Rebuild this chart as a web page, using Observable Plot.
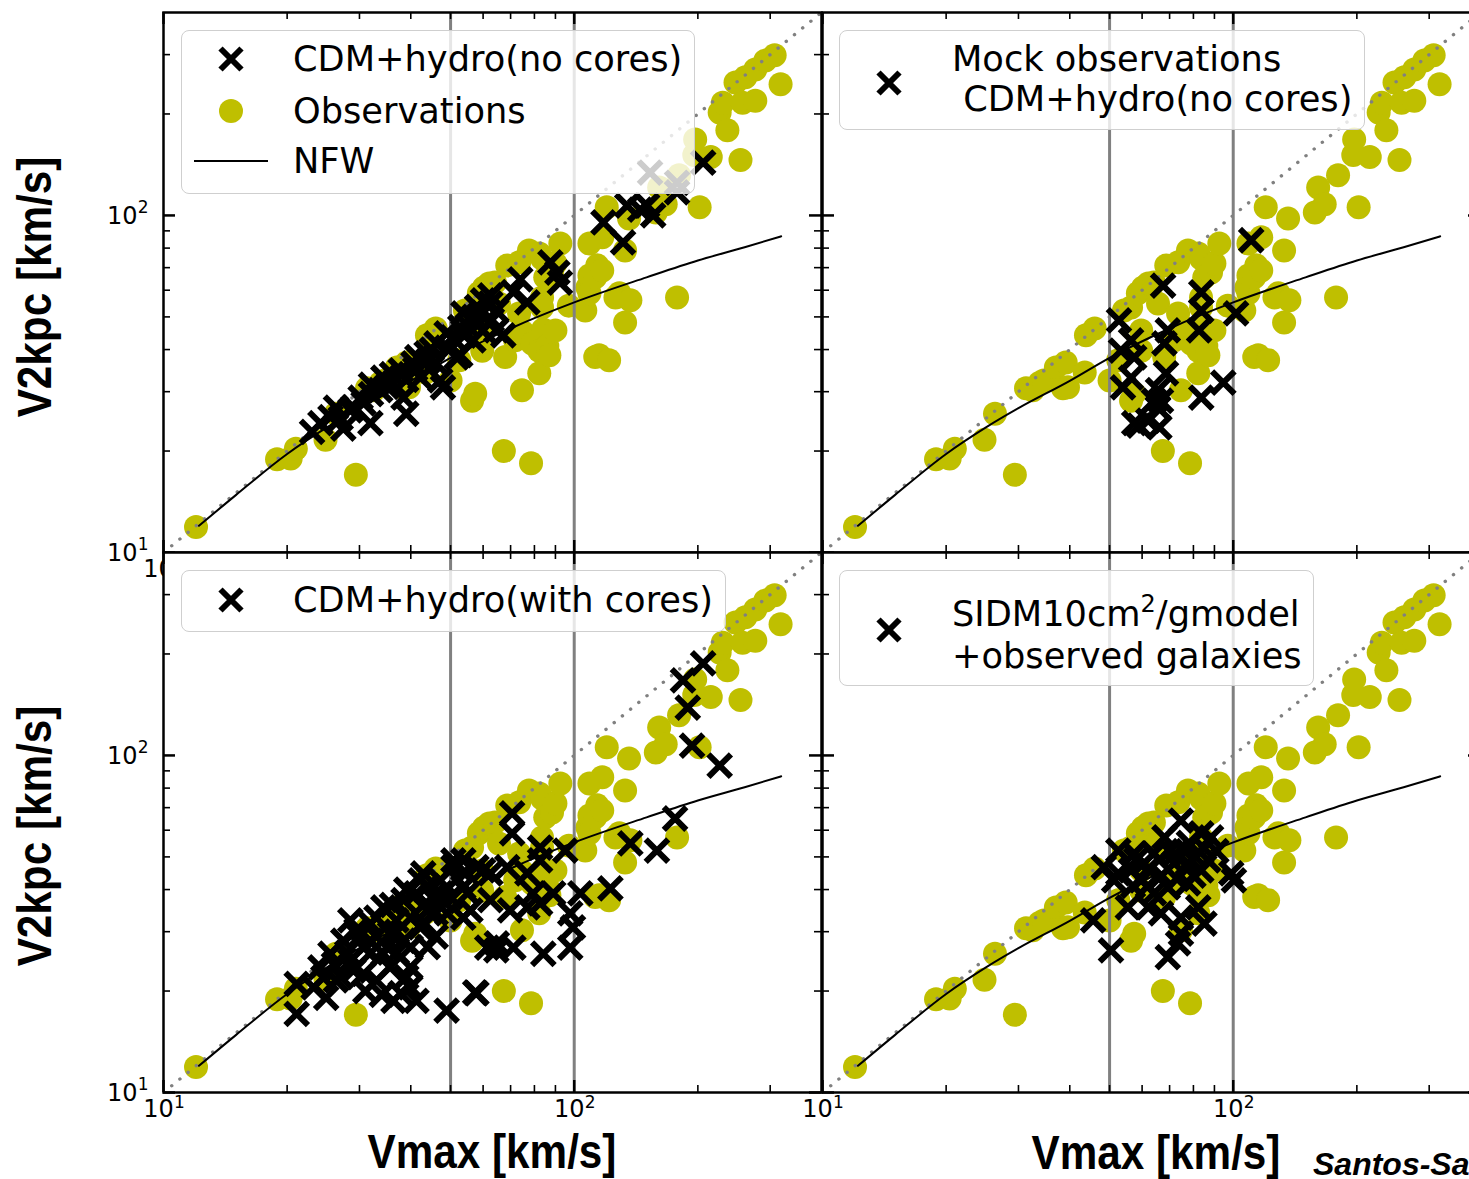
<!DOCTYPE html>
<html>
<head>
<meta charset="utf-8">
<script src="https://cdn.jsdelivr.net/npm/d3@7"></script>
<script src="https://cdn.jsdelivr.net/npm/@observablehq/plot@0.6"></script>
<style>
  html, body { margin: 0; padding: 0; background: #fff; overflow: hidden; }
  #fig { position: relative; width: 1469px; height: 1179px; overflow: hidden; background: #fff; }
  .legend { position: absolute; box-sizing: border-box; background: rgba(255,255,255,0.8);
            border: 1.5px solid #cfcfcf; border-radius: 8px; font-family: "DejaVu Sans", sans-serif;
            font-size: 35.2px; color: #000; }
  .legend .txt { position: absolute; white-space: pre; line-height: 40px; transform: translateY(-50%); }
  .legend svg { position: absolute; overflow: visible; }
  .title { position: absolute; font-family: "Liberation Sans", Arial, sans-serif;
           font-weight: bold; font-size: 48px; line-height: 40px; white-space: nowrap; color: #000; }
  .credit { position: absolute; font-family: "Liberation Sans", sans-serif; font-weight: bold; font-style: italic;
            font-size: 32px; line-height: 28px; white-space: nowrap; color: #000; }
</style>
</head>
<body>
<div id="fig"></div>
<script>
// ---------------- data ----------------
const observations = [
  [12,11.9],[18.9,18.9],[20.4,19.0],[21.0,20.3],[24.8,21.6],[26.3,25.8],[29.4,17.0],[31.3,30.7],
  [32.5,30.3],[33.8,31.9],[34.6,32.4],[37.0,35.4],[38.5,30.7],[39.1,36.6],[39.6,30.9],[43.5,34.2],
  [43.8,44.1],[46.0,46.2],[50.0,32.4],[52.5,37.2],[54.2,52.2],[56.4,53.3],[56.4,28.2],[57.4,29.6],
  [58.6,58.8],[59.7,39.7],[59.7,45.6],[60.3,61.1],[62.1,62.8],[64.1,63.2],[65.6,54.8],[67.4,20.0],
  [67.9,38.0],[68.7,71.0],[71.8,42.6],[73.4,51.2],[73.5,72.6],[75.0,45.0],[74.6,30.3],[77.6,78.7],
  [78.5,18.4],[79.0,41.7],[82.2,77.1],[82.2,39.7],[82.2,34.0],[83.5,74.5],[83.5,57.1],[83.5,53.3],
  [84.0,45.9],[85.0,65.5],[86.0,41.0],[87.0,38.5],[88.3,67.7],[90.0,72.0],[90.0,45.6],[92.5,82.6],
  [97.0,54.0],[106.4,52.2],[107.7,61.1],[108.9,66.4],[108.9,82.6],[108.9,58.8],[112.5,65.5],
  [112.5,38.0],[113.8,71.1],[115,38.5],[117,86.1],[117,68.7],[120,105.7],[121.6,37.2],[126,57.1],
  [128.8,58.8],[133,78.7],[133,48.1],[136,98],[137,56.0],[158,102],[161,121],[167,108],[178,57.1],
  [180,131.5],[196,151],[197,168],[202,105.7],[215,149],[226,202],[230,216],[236,179],[247,248],
  [254,146],[257,216],[261,257],[276,271],[276,219],[292,288],[307.6,298.6],[318,245]
];

const crossesNoCores = [
  [24.1,24.2],[25.5,25.2],[27.4,23.3],[26.3,26.9],[28.5,26.4],[30.2,28.8],[31.9,24.2],[30.7,27.7],
  [34.3,33.0],[33.7,30.3],[36.3,31.7],[38.4,28.8],[39.0,25.8],[37.8,34.7],[40.6,36.4],[42.2,33.0],
  [43.7,39.0],[46.2,41.7],[47.2,32.4],[47.9,30.9],[48.9,44.7],[51.7,37.9],[52.8,46.6],[53.7,51.2],
  [56.8,42.6],[60.0,45.6],[62.5,54.8],[60.0,56.0],[64.6,52.2],[64.6,45.6],[52.8,38.5],[58.1,47.2],
  [62.5,57.9],[60.0,51.5],[67.2,44.1],[71.1,59.2],[76.9,55.2],[73.9,64.6],[87.5,72.6],[91.0,67.7],
  [92.3,63.2],[117.8,95.3],[131.5,83.2],[134.6,107],[144.8,104],[155.7,100],[150.5,107],[178,117],
  [206,143.5],[153,134],[178,125],
  [23.0,22.8],[27.0,25.0],[29.0,27.0],[32.0,29.5],[35.0,31.0],[36.0,33.8],[39.0,32.5],[41.0,35.0],
  [44.0,37.0],[45.0,40.0],[49.0,40.5],[50.5,43.5],[55.0,47.0],[57.0,50.0],[58.0,53.5],[63.0,49.0],
  [32.0,31.5],[41.5,38.0],[46.0,36.5],[54.0,44.0]
];

const crossesMock = [
  [52.7,48.8],[67.5,61.9],[83.6,59.1],[83.6,52.2],[82.6,45.6],[101.6,51.2],[69.3,45.6],[68.0,41.7],
  [56.4,42.6],[53.3,39.7],[57.4,37.9],[56.4,33.0],[53.9,30.9],[68.6,34.0],[65.6,30.3],[66.7,28.2],
  [64.1,28.2],[65.6,26.9],[83.6,28.8],[94.6,31.9],[59.0,23.8],[66.1,23.5],[62.1,24.6],[57.4,24.2],
  [110.6,84.4]
];

const crossesCores = [
  [206,187.5],[184,167],[189,138.6],[193.6,107],[226,93.3],[176,65.0],[159,52.2],[137,54.8],
  [122.5,40.3],[95.1,52.2],[82.6,53.3],[70.6,67.3],[70.6,58.7],[103.5,39.0],[97.8,34.0],[99.3,30.9],
  [97.8,26.9],[84.1,25.8],[71.1,26.9],[61.4,26.9],[64.8,27.7],[57.4,19.8],[62.5,37.2],[69.8,34.7],
  [76.9,35.4],[82.6,36.4],[79.4,39.0],[76.9,44.7],[82.6,48.8],[88.9,39.0],[68.7,46.6],[60.0,45.6],
  [53.7,48.8],[50.8,46.6],[55.0,39.0],[55.9,34.7],[47.2,39.0],[42.2,42.6],[43.8,34.7],[49.1,34.0],
  [39.9,20.5],[21.1,17.1],[21.1,21.0],[24.9,19.1],[23.2,20.5],[24.1,23.5],[25.5,25.8],[27.4,28.2],
  [29.5,30.3],[31.9,31.7],[33.0,33.0],[28.5,24.6],[30.7,22.5],[33.0,21.5],[35.6,23.5],[36.3,18.7],
  [41.3,18.7],[37.8,19.7],[48.9,17.5],[57.8,19.7],[38.4,28.2],[36.9,32.4],[42.2,30.9],[44.7,35.4],
  [41.3,39.0],[38.4,37.2],[47.2,42.6],[50.8,48.8],[42.9,44.7],[34.3,35.4],[31.9,28.2],[26.3,21.5],
  [24.5,21.9],[28.5,32.4],[30.7,26.9],[34.3,25.8],[39.9,23.5],[35.6,29.6],[53.7,40.6],[57.8,46.6],
  [53.7,33.0],[62.5,44.7],[64.6,26.4],
  [26.0,24.0],[28.0,26.0],[29.0,23.0],[32.0,26.0],[33.0,29.0],[35.0,27.0],[37.0,26.0],[37.0,30.0],
  [40.0,27.0],[40.0,33.0],[43.0,32.0],[45.0,38.0],[46.0,34.0],[48.0,37.0],[36.0,36.0],[39.0,40.0],
  [44.0,41.0],[30.0,29.0],[27.0,22.0],[31.0,20.0],[34.0,19.5],[39.0,22.0],[44.0,27.0],[46.0,29.0],
  [50.0,38.0],[52.0,43.0]
];

const crossesSIDM = [
  [74.6,64.1],[52.5,52.2],[88.3,57.1],[83.6,58.7],[68.0,57.1],[64.1,51.2],[48.4,46.6],[51.3,42.6],
  [56.4,45.6],[55.4,35.4],[59.7,42.6],[71.8,47.9],[77.6,47.9],[77.6,41.7],[83.6,45.6],[86.9,48.8],
  [69.3,40.6],[64.1,39.0],[62.1,35.4],[66.7,34.0],[74.6,33.0],[82.2,35.4],[85.1,31.7],[74.6,29.6],
  [73.4,27.7],[69.3,25.2],[50.4,26.4],[45.6,32.4],[98.9,44.7],[100.4,42.6],[57.4,51.2],[60.7,47.9],
  [52.5,44.7],[70.0,52.0],[78.0,55.0],[91.0,52.0],[80.0,44.0],
  [58.0,49.0],[62.0,46.0],[66.0,49.0],[72.0,51.0],[76.0,52.0],[81.0,50.0],[85.0,53.0],[67.0,44.0],
  [73.0,43.0],[62.0,41.0],[57.0,41.0]
];

const nfwCurve = [
  [12.2,12.0],[15,14.8],[20,19.6],[25,23.5],[30,26.8],[40,32.3],[50,37.8],[70,46.2],
  [100,55.2],[150,65.5],[200,73.5],[260,80.5],[319,86.7]
];

const oneToOne = [[10,10],[400,400]];
const refLines = [50, 100];
const axisDomain = [10, 400];
const majorTicks = [10, 100];
const minorTicks = [20,30,40,50,60,70,80,90,200,300];

const legendTL = ["CDM+hydro(no cores)", "Observations", "NFW"];
const legendTR = ["Mock observations", " CDM+hydro(no cores)"];
const legendBL = ["CDM+hydro(with cores)"];
const legendBR = ["SIDM10cm²/gmodel", "+observed galaxies"];
const xTitle = "Vmax [km/s]";
const yTitle = "V2kpc [km/s]";
const credit = "Santos-Santos et al. (2018)";

// ---------------- layout ----------------
const W = 1480, H = 1179, PW = 658, PH = 540;
const expo = d => String(Math.round(Math.log10(d)));
const fig = document.getElementById("fig");
const FONT = "DejaVu Sans";

function panel(p) {
  const X = d => d[0], Y = d => d[1];
  const marks = [
    Plot.frame({fill: "white"}),
    Plot.dot(observations, {x: X, y: Y, r: 12, fill: "#bfbf00", clip: true}),
    Plot.ruleX(refLines, {x: d => d, stroke: "#808080", strokeWidth: 3}),
    Plot.line(oneToOne, {x: X, y: Y, stroke: "#808080", strokeWidth: 3.4, strokeDasharray: "0.1,10.5", strokeLinecap: "round", clip: true}),
    Plot.line(nfwCurve, {x: X, y: Y, stroke: "black", strokeWidth: 2, curve: "monotone-x", clip: true}),
    Plot.dot(p.crosses, {x: X, y: Y, symbol: "times", r: 10.3, stroke: "black", strokeWidth: 6, strokeLinecap: "butt", clip: true}),
    // inward ticks on all four sides
    Plot.tickX(majorTicks, {x: d => d, insetTop: PH - 12, stroke: "black", strokeWidth: 2.5}),
    Plot.tickX(majorTicks, {x: d => d, insetBottom: PH - 12, stroke: "black", strokeWidth: 2.5}),
    Plot.tickX(minorTicks, {x: d => d, insetTop: PH - 7, stroke: "black", strokeWidth: 1.6}),
    Plot.tickX(minorTicks, {x: d => d, insetBottom: PH - 7, stroke: "black", strokeWidth: 1.6}),
    Plot.tickY(majorTicks, {y: d => d, insetRight: PW - 12, stroke: "black", strokeWidth: 2.5}),
    Plot.tickY(majorTicks, {y: d => d, insetLeft: PW - 12, stroke: "black", strokeWidth: 2.5}),
    Plot.tickY(minorTicks, {y: d => d, insetRight: PW - 7, stroke: "black", strokeWidth: 1.6}),
    Plot.tickY(minorTicks, {y: d => d, insetLeft: PW - 7, stroke: "black", strokeWidth: 1.6}),
    Plot.frame({stroke: "black", strokeWidth: 2.5})
  ];
  if (p.xLabels) {
    const xt = p.xLabelTicks || majorTicks;
    marks.push(
      Plot.text(xt, {x: d => d, frameAnchor: "bottom", text: () => "10", dx: -5, dy: 24, fontSize: 24, fontFamily: FONT, fill: "black"}),
      Plot.text(xt, {x: d => d, frameAnchor: "bottom", text: expo, textAnchor: "start", dx: 10.5, dy: 15, fontSize: 17, fontFamily: FONT, fill: "black"})
    );
  }
  if (p.yLabels) {
    marks.push(
      Plot.text(majorTicks, {y: d => d, frameAnchor: "left", text: () => "10", textAnchor: "end", dx: -26, dy: 1, fontSize: 24, fontFamily: FONT, fill: "black"}),
      Plot.text(majorTicks, {y: d => d, frameAnchor: "left", text: expo, textAnchor: "end", dx: -15, dy: -8, fontSize: 17, fontFamily: FONT, fill: "black"})
    );
  }
  const svg = Plot.plot({
    width: W, height: H,
    marginLeft: p.left, marginRight: W - p.left - PW,
    marginTop: p.top, marginBottom: H - p.top - PH,
    x: {type: "log", domain: axisDomain, axis: null},
    y: {type: "log", domain: axisDomain, axis: null},
    style: {background: "transparent", maxWidth: "none", position: "absolute", left: "0px", top: "0px",
            overflow: "visible", fontFamily: FONT, color: "black"},
    marks
  });
  svg.style.width = W + "px"; svg.style.height = H + "px";
  fig.appendChild(svg);
}

// top-row x labels sit under the bottom row (only the left edge of "10¹" peeks out)
panel({left: 163, top: 12, crosses: crossesNoCores, xLabels: true, xLabelTicks: [majorTicks[0]], yLabels: true});
panel({left: 822, top: 12, crosses: crossesMock, xLabels: false, yLabels: false});
panel({left: 163, top: 552, crosses: crossesCores, xLabels: true, yLabels: true});
panel({left: 822, top: 552, crosses: crossesSIDM, xLabels: true, yLabels: false});

// ---------------- legends ----------------
const crossSym = `<path d="M-10.5,-10.5L10.5,10.5M-10.5,10.5L10.5,-10.5" stroke="black" stroke-width="6" fill="none"/>`;
const circleSym = `<circle r="12" fill="#bfbf00"/>`;
const lineSym = `<line x1="-37" x2="37" y1="0" y2="0" stroke="black" stroke-width="2"/>`;

function legend(box, items) {
  const div = document.createElement("div");
  div.className = "legend";
  Object.assign(div.style, {left: box.x + "px", top: box.y + "px", width: box.w + "px", height: box.h + "px"});
  for (const it of items) {
    if (it.sym) {
      const s = document.createElementNS("http://www.w3.org/2000/svg", "svg");
      s.setAttribute("width", 1); s.setAttribute("height", 1);
      s.style.left = it.sx + "px"; s.style.top = it.sy + "px";
      s.innerHTML = it.sym;
      div.appendChild(s);
    }
    if (it.text != null) {
      const t = document.createElement("div");
      t.className = "txt";
      t.style.left = it.tx + "px"; t.style.top = it.ty + "px";
      t.innerHTML = it.text.replace("²", "<span style='font-size:24px;vertical-align:14px'>2</span>");
      div.appendChild(t);
    }
  }
  fig.appendChild(div);
}

legend({x: 181, y: 30, w: 514, h: 164}, [
  {sym: crossSym, sx: 49, sy: 28, text: legendTL[0], tx: 111, ty: 28},
  {sym: circleSym, sx: 49, sy: 80, text: legendTL[1], tx: 111, ty: 80},
  {sym: lineSym, sx: 49, sy: 130, text: legendTL[2], tx: 111, ty: 130}
]);
legend({x: 839, y: 30, w: 526, h: 100}, [
  {sym: crossSym, sx: 49, sy: 52, text: legendTR[0], tx: 112, ty: 28},
  {text: legendTR[1], tx: 112, ty: 68}
]);
legend({x: 181, y: 570, w: 545, h: 62}, [
  {sym: crossSym, sx: 49, sy: 29, text: legendBL[0], tx: 111, ty: 29}
]);
legend({x: 839, y: 570, w: 475, h: 116}, [
  {sym: crossSym, sx: 49, sy: 59, text: legendBR[0], tx: 112, ty: 38},
  {text: legendBR[1], tx: 112, ty: 85}
]);

// ---------------- titles ----------------
function title(text, cx, cy, rotate) {
  const d = document.createElement("div");
  d.className = "title";
  d.textContent = text;
  d.style.left = cx + "px"; d.style.top = cy + "px";
  d.style.transform = `translate(-50%,-50%)${rotate ? " rotate(-90deg)" : ""} scaleX(0.88)`;
  fig.appendChild(d);
}
title(xTitle, 492, 1152, false);
title(xTitle, 1156, 1153, false);
title(yTitle, 35, 287, true);
title(yTitle, 35, 836, true);

const c = document.createElement("div");
c.className = "credit";
c.textContent = credit;
c.style.left = "1313px"; c.style.top = "1150px";
fig.appendChild(c);
</script>
</body>
</html>
